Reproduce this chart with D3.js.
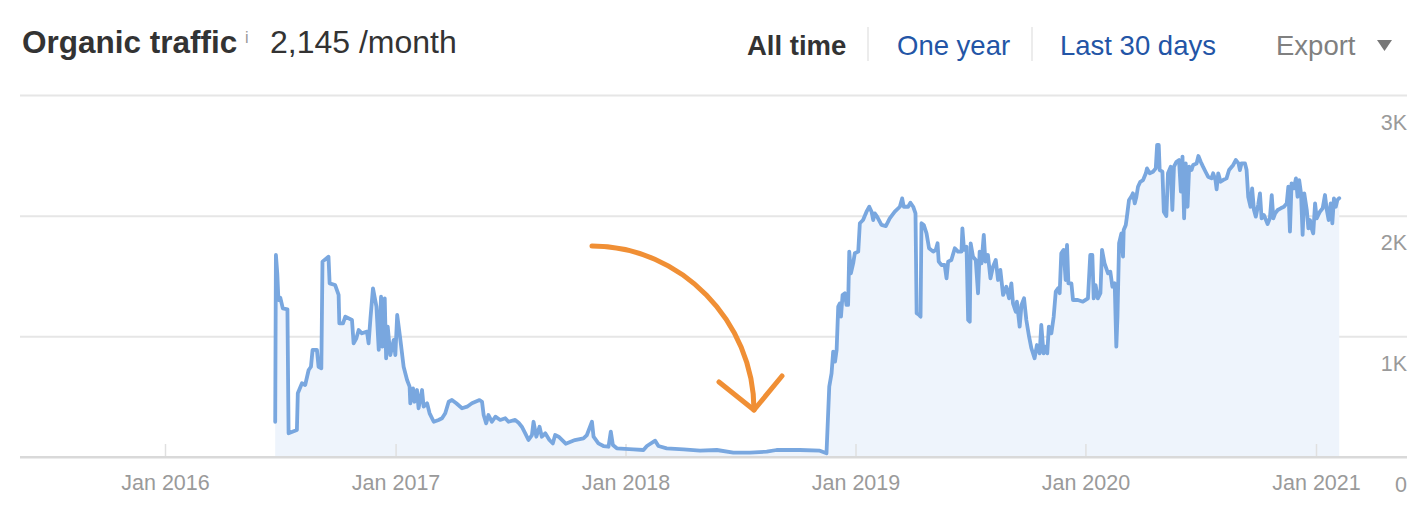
<!DOCTYPE html>
<html>
<head>
<meta charset="utf-8">
<script src="https://cdn.jsdelivr.net/npm/d3@7"></script>
<style>
  html, body { margin: 0; padding: 0; background: #fff; }
  svg { display: block; font-family: "Helvetica Neue", Helvetica, Arial, "Liberation Sans", sans-serif; }
</style>
</head>
<body>
<svg id="chart" width="1428" height="522"></svg>
<script>
// ---- Data (dates as decimal years, organic traffic per month) ----
const dates = [
  2016.478, 2016.481, 2016.487, 2016.492, 2016.500, 2016.511, 2016.531, 2016.536, 2016.572, 2016.576,
  2016.594, 2016.608, 2016.623, 2016.633, 2016.640, 2016.659, 2016.666, 2016.678, 2016.683, 2016.709,
  2016.714, 2016.738, 2016.753, 2016.756, 2016.772, 2016.782, 2016.811, 2016.818, 2016.830, 2016.840,
  2016.854, 2016.876, 2016.883, 2016.891, 2016.902, 2016.917, 2016.927, 2016.937, 2016.943, 2016.953,
  2016.959, 2016.966, 2016.977, 2016.992, 2016.999, 2017.007, 2017.021, 2017.035, 2017.050, 2017.061,
  2017.064, 2017.076, 2017.082, 2017.093, 2017.100, 2017.115, 2017.122, 2017.137, 2017.148, 2017.166,
  2017.187, 2017.202, 2017.216, 2017.231, 2017.245, 2017.264, 2017.289, 2017.311, 2017.332, 2017.365,
  2017.376, 2017.383, 2017.394, 2017.404, 2017.419, 2017.434, 2017.455, 2017.477, 2017.491, 2017.520,
  2017.535, 2017.549, 2017.564, 2017.578, 2017.593, 2017.600, 2017.612, 2017.626, 2017.636, 2017.651,
  2017.669, 2017.684, 2017.694, 2017.709, 2017.740, 2017.780, 2017.817, 2017.832, 2017.854, 2017.861,
  2017.882, 2017.904, 2017.926, 2017.936, 2017.945, 2017.962, 2018.034, 2018.078, 2018.093, 2018.129,
  2018.143, 2018.179, 2018.252, 2018.324, 2018.397, 2018.469, 2018.541, 2018.614, 2018.657, 2018.758,
  2018.845, 2018.874, 2018.886, 2018.896, 2018.903, 2018.911, 2018.918, 2018.925, 2018.932, 2018.937,
  2018.944, 2018.954, 2018.961, 2018.968, 2018.973, 2018.980, 2018.990, 2018.997, 2019.012, 2019.019,
  2019.033, 2019.048, 2019.060, 2019.070, 2019.077, 2019.084, 2019.094, 2019.113, 2019.132, 2019.149,
  2019.171, 2019.193, 2019.203, 2019.210, 2019.229, 2019.239, 2019.251, 2019.261, 2019.266, 2019.277,
  2019.283, 2019.287, 2019.297, 2019.309, 2019.320, 2019.338, 2019.349, 2019.357, 2019.362, 2019.374,
  2019.388, 2019.396, 2019.403, 2019.417, 2019.432, 2019.446, 2019.461, 2019.465, 2019.472, 2019.483,
  2019.490, 2019.497, 2019.501, 2019.511, 2019.523, 2019.533, 2019.540, 2019.548, 2019.558, 2019.565,
  2019.576, 2019.587, 2019.598, 2019.610, 2019.620, 2019.630, 2019.642, 2019.656, 2019.668, 2019.678,
  2019.685, 2019.697, 2019.702, 2019.714, 2019.722, 2019.733, 2019.743, 2019.755, 2019.765, 2019.779,
  2019.789, 2019.801, 2019.808, 2019.818, 2019.827, 2019.834, 2019.841, 2019.852, 2019.862, 2019.871,
  2019.881, 2019.888, 2019.895, 2019.905, 2019.914, 2019.920, 2019.926, 2019.939, 2019.946, 2019.967,
  2019.989, 2020.011, 2020.021, 2020.030, 2020.036, 2020.044, 2020.054, 2020.065, 2020.072, 2020.083,
  2020.098, 2020.108, 2020.117, 2020.127, 2020.134, 2020.139, 2020.146, 2020.156, 2020.163, 2020.166,
  2020.175, 2020.180, 2020.189, 2020.199, 2020.206, 2020.214, 2020.221, 2020.228, 2020.238, 2020.250,
  2020.262, 2020.267, 2020.279, 2020.293, 2020.305, 2020.311, 2020.318, 2020.322, 2020.334, 2020.340,
  2020.351, 2020.358, 2020.370, 2020.377, 2020.384, 2020.395, 2020.406, 2020.414, 2020.421, 2020.428,
  2020.435, 2020.443, 2020.450, 2020.460, 2020.467, 2020.482, 2020.490, 2020.500, 2020.510, 2020.521,
  2020.532, 2020.547, 2020.554, 2020.564, 2020.569, 2020.576, 2020.586, 2020.597, 2020.612, 2020.623,
  2020.641, 2020.652, 2020.664, 2020.670, 2020.677, 2020.692, 2020.699, 2020.706, 2020.716, 2020.723,
  2020.731, 2020.739, 2020.749, 2020.757, 2020.764, 2020.774, 2020.783, 2020.790, 2020.800, 2020.808,
  2020.815, 2020.823, 2020.834, 2020.847, 2020.861, 2020.873, 2020.880, 2020.887, 2020.894, 2020.904,
  2020.913, 2020.920, 2020.927, 2020.935, 2020.942, 2020.949, 2020.960, 2020.967, 2020.974, 2020.981,
  2020.988, 2020.996, 2021.003, 2021.017, 2021.029, 2021.039, 2021.047, 2021.055, 2021.064, 2021.071,
  2021.078, 2021.086, 2021.093, 2021.101
];
const traffic = [
  292, 1674, 1520, 1301, 1320, 1232, 1224, 196, 224, 528,
  611, 597, 721, 748, 887, 887, 748, 735, 1619, 1660,
  1439, 1425, 1343, 1108, 1108, 1163, 1135, 942, 984, 1052,
  1025, 1039, 942, 1149, 1398, 1246, 887, 1328, 914, 1315,
  818, 1080, 845, 970, 845, 1177, 970, 748, 638, 583,
  445, 569, 458, 555, 404, 555, 417, 445, 362, 292,
  307, 321, 362, 458, 472, 445, 404, 417, 445, 472,
  458, 348, 279, 348, 292, 334, 307, 321, 292, 307,
  284, 251, 196, 141, 182, 292, 168, 251, 168, 196,
  141, 113, 182, 168, 110, 140, 155, 182, 292, 168,
  113, 91, 85, 210, 99, 72, 64, 58, 91, 135,
  91, 72, 64, 52, 58, 36, 36, 44, 58, 58,
  52, 31, 583, 693, 873, 790, 887, 1246, 1273, 1163,
  1343, 1357, 1260, 1260, 1702, 1522, 1605, 1688, 1702, 1937,
  1964, 2033, 2074, 2033, 1964, 2019, 1992, 1923, 1914, 1978,
  2033, 2074, 2143, 2074, 2074, 2107, 2074, 2019, 1191, 1177,
  1163, 1937, 1923, 1853, 1730, 1702, 1716, 1771, 1619, 1591,
  1591, 1481, 1619, 1633, 1730, 1702, 1702, 1895, 1716, 1743,
  1135, 1121, 1771, 1660, 1633, 1357, 1702, 1605, 1840, 1619,
  1674, 1481, 1577, 1633, 1467, 1550, 1343, 1411, 1315, 1439,
  1273, 1204, 1287, 1080, 1260, 1315, 1135, 997, 901, 818,
  928, 859, 1094, 859, 914, 859, 1080, 1025, 1163, 1370,
  1398, 1357, 1688, 1716, 1467, 1757, 1439, 1439, 1301, 1301,
  1287, 1315, 1674, 1674, 1315, 1425, 1315, 1357, 1716, 1605,
  1522, 1536, 1411, 1439, 914, 1163, 1771, 1853, 1660, 1881,
  1923, 1992, 2130, 2157, 2185, 2102, 2157, 2240, 2281, 2295,
  2351, 2392, 2351, 2364, 2392, 2586, 2586, 2378, 2364, 2033,
  1997, 2351, 2406, 2047, 2406, 2447, 2461, 2199, 2489, 1978,
  2433, 2074, 2406, 2378, 2420, 2433, 2494, 2447, 2406, 2364,
  2323, 2309, 2351, 2295, 2218, 2351, 2281, 2295, 2309, 2378,
  2420, 2461, 2433, 2378, 2433, 2433, 2378, 2157, 2074, 2226,
  2047, 1992, 2088, 2185, 1978, 2005, 1964, 1931, 1978, 2171,
  1978, 2019, 2047, 2061, 2074, 2102, 2240, 1867, 2268, 2226,
  2309, 2157, 2295, 2185, 1840, 2185, 2047, 1895, 1964, 1895,
  1853, 2102, 1978, 2033, 2061, 2171, 2047, 1964, 2102, 1937,
  2143, 2074, 2130, 2145
];
const xTickYears = [2016, 2017, 2018, 2019, 2020, 2021];
const yTicks = [0, 1000, 2000, 3000];
const yTickLabels = ["0", "1K", "2K", "3K"];
const menuItems = ["All time", "One year", "Last 30 days"];

// ---- helpers ----
function decYearToDate(v) {
  const yr = Math.floor(v);
  const a = Date.UTC(yr, 0, 1), b = Date.UTC(yr + 1, 0, 1);
  return new Date(a + (v - yr) * (b - a));
}
const series = dates.map((d, i) => ({ date: decYearToDate(d), value: traffic[i] }));

const svg = d3.select("#chart");
const plotL = 20, plotR = 1407, plotT = 95, plotB = 457;

const x = d3.scaleUtc()
  .domain([new Date(Date.UTC(2016, 0, 1)), new Date(Date.UTC(2021, 0, 1))])
  .range([165, 1316]);
const y = d3.scaleLinear().domain([0, 3000]).range([plotB, plotT]);

// ---- grid + y labels ----
const yAxis = d3.axisRight(y)
  .tickValues(yTicks)
  .tickSize(plotR - plotL)
  .tickFormat((d, i) => yTickLabels[i]);
const gy = svg.append("g").attr("transform", `translate(${plotL},0)`).call(yAxis);
gy.select(".domain").remove();
gy.selectAll(".tick line")
  .attr("stroke", d => d === 0 ? "#d9d9d9" : "#e6e6e6")
  .attr("stroke-width", 2);
gy.selectAll(".tick text")
  .attr("x", plotR - plotL)
  .attr("dy", 34)
  .attr("text-anchor", "end")
  .attr("fill", "#9a9a9a")
  .style("font-size", "21.5px");

// ---- area + line ----
const area = d3.area().x(d => x(d.date)).y0(y(0)).y1(d => y(d.value)).curve(d3.curveLinear);
const line = d3.line().x(d => x(d.date)).y(d => y(d.value)).curve(d3.curveLinear);

svg.append("path").datum(series).attr("d", area).attr("fill", "#eef4fc");

// ---- x axis ----
const xAxis = d3.axisBottom(x)
  .tickValues(xTickYears.map(yr => new Date(Date.UTC(yr, 0, 1))))
  .tickSizeInner(-13)
  .tickSizeOuter(0)
  .tickPadding(18)
  .tickFormat(d3.utcFormat("Jan %Y"));
const gx = svg.append("g").attr("transform", `translate(0,${plotB})`).call(xAxis);
gx.select(".domain").remove();
gx.selectAll(".tick line").attr("stroke", "#e0e0e0").attr("stroke-width", 1.5);
gx.selectAll(".tick text").attr("fill", "#9a9a9a").style("font-size", "21.5px");

// baseline redraw over the area
svg.append("line")
  .attr("x1", plotL).attr("x2", plotR).attr("y1", y(0)).attr("y2", y(0))
  .attr("stroke", "#d9d9d9").attr("stroke-width", 2);

svg.append("path").datum(series).attr("d", line)
  .attr("fill", "none").attr("stroke", "#79a7df")
  .attr("stroke-width", 3.8).attr("stroke-linejoin", "round").attr("stroke-linecap", "round");

// ---- annotation arrow ----
const arrow = svg.append("g").attr("fill", "none").attr("stroke", "#f08f35")
  .attr("stroke-width", 5).attr("stroke-linecap", "round").attr("stroke-linejoin", "round");
arrow.append("path").attr("d", "M592,246 C681,246 754,322 754,410");
arrow.append("path").attr("d", "M719,382 L754,410 L782,376");

// ---- header ----
svg.append("text").attr("x", 22).attr("y", 53)
  .attr("fill", "#333").style("font-size", "31.5px").style("font-weight", "bold")
  .text("Organic traffic");
svg.append("text").attr("x", 245).attr("y", 43)
  .attr("fill", "#999").style("font-size", "16px")
  .text("i");
svg.append("text").attr("x", 270).attr("y", 53)
  .attr("fill", "#333").style("font-size", "32px")
  .text("2,145 /month");

const menuX = [747, 897, 1060];
const menuColors = ["#333", "#2355a6", "#2355a6"];
menuItems.forEach((t, i) => {
  svg.append("text").attr("x", menuX[i]).attr("y", 55)
    .attr("fill", menuColors[i]).style("font-size", "27.5px")
    .style("font-weight", i === 0 ? "bold" : "normal")
    .text(t);
});
[868, 1032].forEach(sx => {
  svg.append("line").attr("x1", sx).attr("x2", sx).attr("y1", 27).attr("y2", 61)
    .attr("stroke", "#e6e6e6").attr("stroke-width", 1.5);
});
svg.append("text").attr("x", 1276).attr("y", 55)
  .attr("fill", "#808080").style("font-size", "27.5px").text("Export");
svg.append("path").attr("d", "M1377,40 L1392,40 L1384.5,51 Z").attr("fill", "#777");
</script>
</body>
</html>
